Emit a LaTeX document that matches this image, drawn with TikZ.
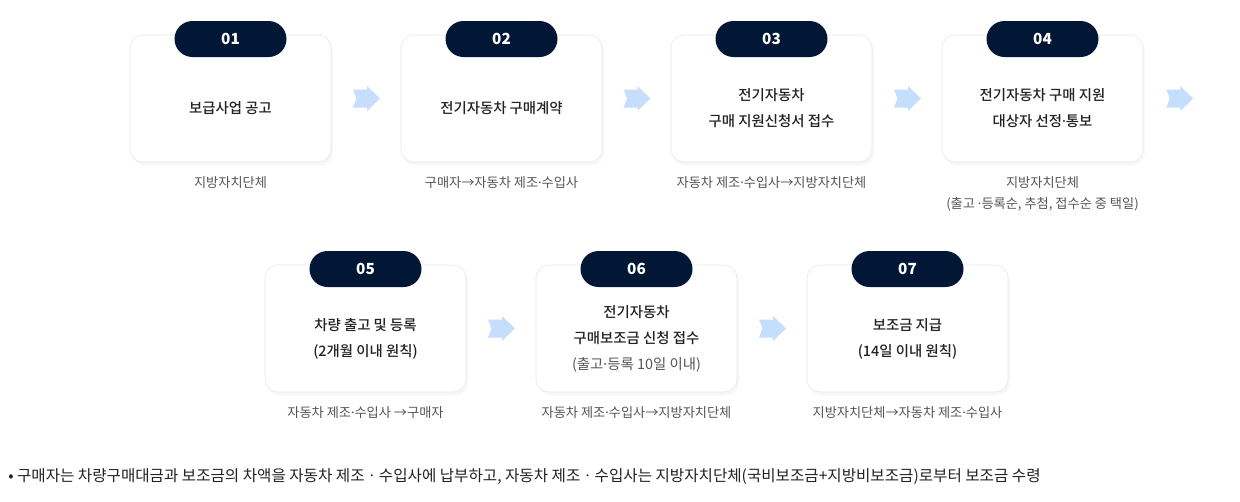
\documentclass[tikz,border=0pt]{standalone}
\usepackage{fontspec}
\setmainfont{Noto Sans CJK KR}
\newfontfamily\mediumface{Noto Sans CJK KR Medium}
\newfontfamily\regularface{Noto Sans CJK KR}
\newfontfamily\latinface{Noto Sans}
\newcommand{\middot}{{\latinface ·}}
\usetikzlibrary{calc}
\usetikzlibrary{shadows}

\definecolor{badgenavy}{RGB}{2,22,54}
\definecolor{cardline}{RGB}{230,230,233}
\definecolor{flowblue}{RGB}{196,222,252}
\definecolor{taskink}{RGB}{34,34,34}
\definecolor{actorink}{RGB}{85,85,85}

\tikzset{
  card/.style={draw=cardline, fill=white, rounded corners=9.5pt, minimum width=150.75pt, minimum height=95.25pt,
    drop shadow={opacity=0.06, shadow xshift=1.5pt, shadow yshift=-2.5pt}},
  badge/.style={fill=badgenavy, rounded corners=13.5pt, minimum width=84pt, minimum height=27pt, inner sep=0pt,
    text=white, font=\bfseries\fontsize{11.5}{13}\selectfont},
  task/.style={text=taskink, align=center, font=\mediumface\fontsize{10.8}{19.5}\selectfont},
  actor/.style={text=actorink, align=center, font=\fontsize{9.9}{15.75}\selectfont},
  flowarrow/.pic={\fill[flowblue] (-13,-9) -- (1,-9) -- (1,-12.5) -- (14,0) -- (1,12.5) -- (1,9) -- (-13,9) -- (-9.5,0) -- cycle;}
}

\begin{document}
\begin{tikzpicture}[x=0.75pt,y=0.75pt,yscale=-1,xscale=1]
\useasboundingbox[fill=white] (0,0) rectangle (1240,501);

%Shape: Cards, row 1
\node[card] (card1) at (230.5,98.5) {};
\node[card] (card2) at (501.5,98.5) {};
\node[card] (card3) at (771.5,98.5) {};
\node[card] (card4) at (1042.5,98.5) {};
%Shape: Cards, row 2
\node[card] (card5) at (365.5,328.5) {};
\node[card] (card6) at (636.5,328.5) {};
\node[card] (card7) at (907.5,328.5) {};

% Badges
\node[badge] (badge1) at (230.5,39) {01};
\node[badge] (badge2) at (501.5,39) {02};
\node[badge] (badge3) at (771.5,39) {03};
\node[badge] (badge4) at (1042.5,39) {04};
\node[badge] (badge5) at (365.5,269) {05};
\node[badge] (badge6) at (636.5,269) {06};
\node[badge] (badge7) at (907.5,269) {07};

% Text Node
\node[task] (task1) at (230.5,108) {보급사업 공고};
\node[task] (task2) at (501.5,108) {전기자동차 구매계약};
\node[task] (task3) at (771.5,108) {전기자동차\\구매 지원신청서 접수};
\node[task] (task4) at (1042.5,108) {전기자동차 구매 지원\\대상자 선정\middot 통보};
\node[task] (task5) at (365.5,339) {차량 출고 및 등록\\(2개월 이내 원칙)};
\node[task] (task6) at (636.5,338.5) {전기자동차\\구매보조금 신청 접수\\{\regularface\color{actorink}(출고\middot 등록 10일 이내)}};
\node[task] (task7) at (907.5,339) {보조금 지급\\(14일 이내 원칙)};

% Text Node
\node[actor] (actor1) at (230.5,183) {지방자치단체};
\node[actor] (actor2) at (501.5,183) {구매자→자동차 제조\middot 수입사};
\node[actor] (actor3) at (771.5,183) {자동차 제조\middot 수입사→지방자치단체};
\node[actor] (actor4) at (1042.5,193.5) {지방자치단체\\(출고 \middot 등록순, 추첨, 접수순 중 택일)};
\node[actor] (actor5) at (365.5,413) {자동차 제조\middot 수입사 →구매자};
\node[actor] (actor6) at (636.5,413) {자동차 제조\middot 수입사→지방자치단체};
\node[actor] (actor7) at (907.5,413) {지방자치단체→자동차 제조\middot 수입사};

%Shape: Flow arrows
\pic at ($(card1.east)!0.5!(card2.west)$) {flowarrow};
\pic at ($(card2.east)!0.5!(card3.west)$) {flowarrow};
\pic at ($(card3.east)!0.5!(card4.west)$) {flowarrow};
\pic at ($(card4.east)+(36,0)$) {flowarrow};
\pic at ($(card5.east)!0.5!(card6.west)$) {flowarrow};
\pic at ($(card6.east)!0.5!(card7.west)$) {flowarrow};

% Text Node
\node[anchor=west, text=taskink, font=\fontsize{11.7}{13}\selectfont, inner sep=0pt] (note) at (8,477)
  {• 구매자는 차량구매대금과 보조금의 차액을 자동차 제조ㆍ수입사에 납부하고, 자동차 제조ㆍ수입사는 지방자치단체(국비보조금+지방비보조금)로부터 보조금 수령};

\end{tikzpicture}
\end{document}
